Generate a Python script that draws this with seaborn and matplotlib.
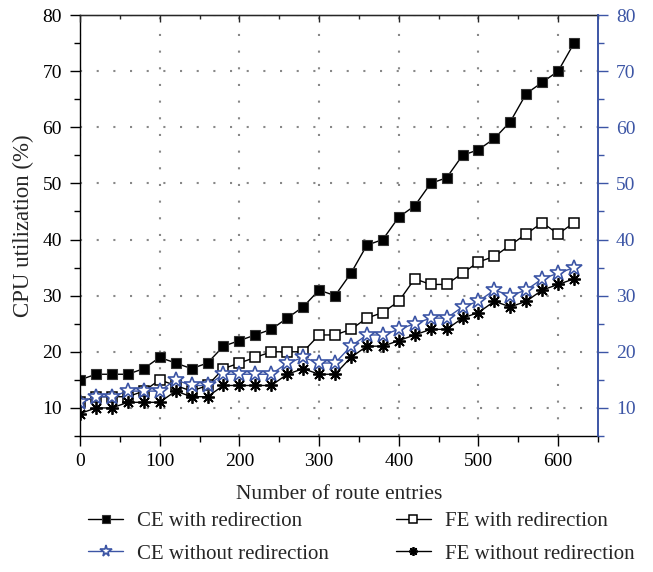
import matplotlib
matplotlib.use("Agg")
import matplotlib.pyplot as plt
from matplotlib.ticker import MultipleLocator, NullFormatter
import seaborn as sns

route_entries = list(range(0, 640, 20))
ce_with = [15, 16, 16, 16, 17, 19, 18, 17, 18, 21, 22, 23, 24, 26, 28, 31,
           30, 34, 39, 40, 44, 46, 50, 51, 55, 56, 58, 61, 66, 68, 70, 75]
fe_with = [11, 12, 12, 12, 13, 15, 14, 13, 14, 17, 18, 19, 20, 20, 20, 23,
           23, 24, 26, 27, 29, 33, 32, 32, 34, 36, 37, 39, 41, 43, 41, 43]
ce_without = [11, 12, 12, 13, 13, 13, 15, 14, 14, 16, 16, 16, 16, 18, 19, 18,
              18, 21, 23, 23, 24, 25, 26, 26, 28, 29, 31, 30, 31, 33, 34, 35]
fe_without = [9, 10, 10, 11, 11, 11, 13, 12, 12, 14, 14, 14, 14, 16, 17, 16,
              16, 19, 21, 21, 22, 23, 24, 24, 26, 27, 29, 28, 29, 31, 32, 33]

labels = ["CE with redirection", "FE with redirection",
          "CE without redirection", "FE without redirection"]

sns.set_style("white")
plt.rcParams['font.family'] = ['Liberation Serif', 'DejaVu Serif']

BLUE = "#3c55a5"

fig = plt.figure(figsize=(6.53, 5.72), dpi=100)
ax = fig.add_axes([80/653, 1-436/572, 518/653, 421/572])

styles = [
    dict(y=ce_with, marker="s", color="black", markerfacecolor="black",
         markeredgecolor="#333333", markersize=7.5, markeredgewidth=0.8, label=labels[0]),
    dict(y=fe_with, marker="s", color="black", markerfacecolor="white",
         markeredgecolor="black", markersize=7.5, markeredgewidth=1.1, label=labels[1]),
    dict(y=ce_without, marker="*", color=BLUE, markerfacecolor="white",
         markeredgecolor=BLUE, markersize=12, markeredgewidth=1.2, label=labels[2]),
    dict(y=fe_without, marker=(8, 2, 0), color="black", markerfacecolor="black",
         markeredgecolor="black", markersize=9, markeredgewidth=1.3, label=labels[3]),
]

for st in styles:
    st = dict(st)
    yv = st.pop("y")
    lab = st.pop("label")
    col = st.pop("color")
    sns.lineplot(x=route_entries, y=yv, ax=ax, color=col, linewidth=1.0,
                 estimator=None, sort=False, label=lab, legend=False, **st)

ax.set_xlim(0, 650)
ax.set_ylim(5, 80)
ax.xaxis.set_major_locator(MultipleLocator(100))
ax.xaxis.set_minor_locator(MultipleLocator(50))
ax.yaxis.set_major_locator(MultipleLocator(10))
ax.yaxis.set_minor_locator(MultipleLocator(5))

ax.grid(True, which="major", linestyle=(0, (1, 7)), color="#888888", linewidth=1.5)
ax.set_axisbelow(True)

for s in ["left", "bottom", "top"]:
    ax.spines[s].set_color("black")
    ax.spines[s].set_linewidth(1.0)
ax.spines["right"].set_color(BLUE)
ax.spines["right"].set_linewidth(1.2)

ax.tick_params(axis="both", which="both", labelsize=14, colors="black")
ax.tick_params(axis="x", which="both", bottom=True, top=False, direction="out", pad=5)
ax.tick_params(axis="y", which="both", left=True, direction="out", pad=6)
ax.tick_params(which="major", length=7, width=1.0)
ax.tick_params(which="minor", length=4, width=1.0)

ax.set_xlabel("Number of route entries", fontsize=15.5, labelpad=11)
ax.set_ylabel("CPU utilization (%)", fontsize=16.5, labelpad=6)

# top ticks pointing inward
ax3 = ax.twiny()
ax3.set_xlim(ax.get_xlim())
ax3.xaxis.set_major_locator(MultipleLocator(100))
ax3.xaxis.set_minor_locator(MultipleLocator(50))
ax3.xaxis.set_major_formatter(NullFormatter())
ax3.tick_params(axis="x", which="both", direction="in", top=True, labeltop=False)
ax3.tick_params(which="major", length=5, width=1.0)
ax3.tick_params(which="minor", length=3, width=1.0)
for s in ["left", "bottom", "right"]:
    ax3.spines[s].set_visible(False)

ax2 = ax.twinx()
ax2.set_ylim(ax.get_ylim())
ax2.yaxis.set_major_locator(MultipleLocator(10))
ax2.yaxis.set_minor_locator(MultipleLocator(5))
ax2.tick_params(axis="y", which="both", colors=BLUE, labelsize=14, direction="out", pad=6)
ax2.tick_params(which="major", length=7, width=1.0)
ax2.tick_params(which="minor", length=4, width=1.0)
for s in ["left", "bottom", "top"]:
    ax2.spines[s].set_visible(False)
ax2.spines["right"].set_color(BLUE)
ax2.spines["right"].set_linewidth(1.2)

h, l = ax.get_legend_handles_labels()
order = [0, 2, 1, 3]
leg = fig.legend([h[i] for i in order], [l[i] for i in order], loc="lower center",
                 bbox_to_anchor=(0.553, -0.018), ncol=2, frameon=False, fontsize=15,
                 handlelength=1.7, columnspacing=3.2, labelspacing=0.6,
                 markerscale=0.7, handletextpad=0.65)

fig.savefig("out.png", dpi=100)
